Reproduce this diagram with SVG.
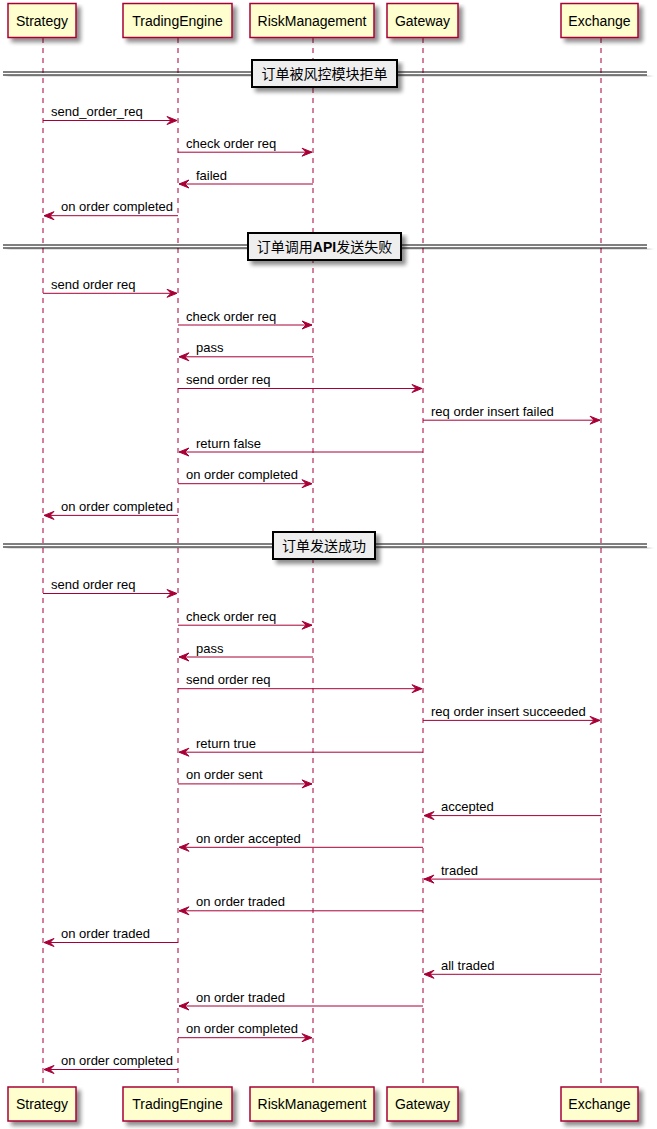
<svg xmlns="http://www.w3.org/2000/svg" width="657" height="1129" viewBox="0 0 657 1129">
<defs>
<filter id="sh" x="-10%" y="-10%" width="130%" height="150%">
<feGaussianBlur in="SourceAlpha" stdDeviation="2" result="b"/>
<feOffset in="b" dx="4" dy="4" result="o"/>
<feComponentTransfer in="o" result="c"><feFuncA type="linear" slope="0.45"/></feComponentTransfer>
<feMerge><feMergeNode in="c"/><feMergeNode in="SourceGraphic"/></feMerge>
</filter>
</defs>
<style>
.pbox{fill:#FEFECE;stroke:#A80036;stroke-width:1.5;filter:url(#sh)}
.pt{font-family:"Liberation Sans",Arial,sans-serif;font-size:14px;fill:#000;text-anchor:middle}
.life{stroke:#A80036;stroke-width:1;stroke-dasharray:5,5;fill:none}
.msg{stroke:#A80036;stroke-width:1;fill:none}
.head{fill:#A80036;stroke:#A80036;stroke-width:1}
.mt{font-family:"Liberation Sans",Arial,sans-serif;font-size:13px;fill:#000}
.dbox{fill:#EEEEEE;stroke:#000;stroke-width:2;filter:url(#sh)}
.dline{stroke:#000;stroke-width:1;fill:none}
.dt{font-family:"Liberation Sans","Noto Sans CJK SC",sans-serif;font-size:14px;fill:#000;text-anchor:middle}
</style>
<rect width="657" height="1129" fill="#FFFFFF"/>

<g id="lifelines">
<line class="life" x1="43" y1="38" x2="43" y2="1087"/>
<line class="life" x1="178" y1="38" x2="178" y2="1087"/>
<line class="life" x1="313" y1="38" x2="313" y2="1087"/>
<line class="life" x1="423" y1="38" x2="423" y2="1087"/>
<line class="life" x1="601" y1="38" x2="601" y2="1087"/>
</g>

<g id="Strategy">
<rect class="pbox" x="8" y="3.5" width="68" height="34"/>
<text class="pt" x="42" y="25.5">Strategy</text>
<rect class="pbox" x="8" y="1087" width="68" height="34"/>
<text class="pt" x="42" y="1109">Strategy</text>
</g>
<g id="TradingEngine">
<rect class="pbox" x="123" y="3.5" width="109" height="34"/>
<text class="pt" x="177.5" y="25.5">TradingEngine</text>
<rect class="pbox" x="123" y="1087" width="109" height="34"/>
<text class="pt" x="177.5" y="1109">TradingEngine</text>
</g>
<g id="RiskManagement">
<rect class="pbox" x="250" y="3.5" width="124" height="34"/>
<text class="pt" x="312" y="25.5">RiskManagement</text>
<rect class="pbox" x="250" y="1087" width="124" height="34"/>
<text class="pt" x="312" y="1109">RiskManagement</text>
</g>
<g id="Gateway">
<rect class="pbox" x="387" y="3.5" width="71" height="34"/>
<text class="pt" x="422.5" y="25.5">Gateway</text>
<rect class="pbox" x="387" y="1087" width="71" height="34"/>
<text class="pt" x="422.5" y="1109">Gateway</text>
</g>
<g id="Exchange">
<rect class="pbox" x="561" y="3.5" width="77" height="34"/>
<text class="pt" x="599.5" y="25.5">Exchange</text>
<rect class="pbox" x="561" y="1087" width="77" height="34"/>
<text class="pt" x="599.5" y="1109">Exchange</text>
</g>

<g id="divider1">
<g filter="url(#sh)"><line class="dline" x1="3" y1="72" x2="647" y2="72"/><line class="dline" x1="3" y1="75" x2="647" y2="75"/></g>
<rect class="dbox" x="252" y="60" width="145" height="27"/>
<text class="dt" x="324.5" y="79">订单被风控模块拒单</text>
</g>
<g id="divider2">
<g filter="url(#sh)"><line class="dline" x1="3" y1="245" x2="647" y2="245"/><line class="dline" x1="3" y1="248" x2="647" y2="248"/></g>
<rect class="dbox" x="248" y="233" width="153" height="27"/>
<text class="dt" x="324.5" y="252">订单调用<tspan font-weight="bold">API</tspan>发送失败</text>
</g>
<g id="divider3">
<g filter="url(#sh)"><line class="dline" x1="3" y1="544" x2="647" y2="544"/><line class="dline" x1="3" y1="547" x2="647" y2="547"/></g>
<rect class="dbox" x="273" y="532" width="102" height="27"/>
<text class="dt" x="324" y="551">订单发送成功</text>
</g>

<g id="connectors">
<line class="msg" x1="43" y1="120.5" x2="177" y2="120.5"/><polygon class="head" points="167,116.5 177,120.5 167,124.5 171,120.5"/><text class="mt" x="51" y="116">send_order_req</text>
<line class="msg" x1="178" y1="152.2" x2="312" y2="152.2"/><polygon class="head" points="302,148.2 312,152.2 302,156.2 306,152.2"/><text class="mt" x="186" y="148">check order req</text>
<line class="msg" x1="179" y1="184" x2="313" y2="184"/><polygon class="head" points="189,180 179,184 189,188 185,184"/><text class="mt" x="196" y="179.5">failed</text>
<line class="msg" x1="44" y1="215.7" x2="178" y2="215.7"/><polygon class="head" points="54,211.7 44,215.7 54,219.7 50,215.7"/><text class="mt" x="61" y="211.2">on order completed</text>
<line class="msg" x1="43" y1="293.3" x2="177" y2="293.3"/><polygon class="head" points="167,289.3 177,293.3 167,297.3 171,293.3"/><text class="mt" x="51" y="288.8">send order req</text>
<line class="msg" x1="178" y1="325" x2="312" y2="325"/><polygon class="head" points="302,321 312,325 302,329 306,325"/><text class="mt" x="186" y="320.5">check order req</text>
<line class="msg" x1="179" y1="356.8" x2="313" y2="356.8"/><polygon class="head" points="189,352.8 179,356.8 189,360.8 185,356.8"/><text class="mt" x="196" y="352.3">pass</text>
<line class="msg" x1="178" y1="388.5" x2="422" y2="388.5"/><polygon class="head" points="412,384.5 422,388.5 412,392.5 416,388.5"/><text class="mt" x="186" y="384">send order req</text>
<line class="msg" x1="423" y1="420.2" x2="600" y2="420.2"/><polygon class="head" points="590,416.2 600,420.2 590,424.2 594,420.2"/><text class="mt" x="431" y="415.7">req order insert failed</text>
<line class="msg" x1="179" y1="452" x2="423" y2="452"/><polygon class="head" points="189,448 179,452 189,456 185,452"/><text class="mt" x="196" y="447.5">return false</text>
<line class="msg" x1="178" y1="483.7" x2="312" y2="483.7"/><polygon class="head" points="302,479.7 312,483.7 302,487.7 306,483.7"/><text class="mt" x="186" y="479.2">on order completed</text>
<line class="msg" x1="44" y1="515.4" x2="178" y2="515.4"/><polygon class="head" points="54,511.4 44,515.4 54,519.4 50,515.4"/><text class="mt" x="61" y="510.9">on order completed</text>
<line class="msg" x1="43" y1="593.5" x2="177" y2="593.5"/><polygon class="head" points="167,589.5 177,593.5 167,597.5 171,593.5"/><text class="mt" x="51" y="589">send order req</text>
<line class="msg" x1="178" y1="625.2" x2="312" y2="625.2"/><polygon class="head" points="302,621.2 312,625.2 302,629.2 306,625.2"/><text class="mt" x="186" y="620.7">check order req</text>
<line class="msg" x1="179" y1="657" x2="313" y2="657"/><polygon class="head" points="189,653 179,657 189,661 185,657"/><text class="mt" x="196" y="652.5">pass</text>
<line class="msg" x1="178" y1="688.7" x2="422" y2="688.7"/><polygon class="head" points="412,684.7 422,688.7 412,692.7 416,688.7"/><text class="mt" x="186" y="684.2">send order req</text>
<line class="msg" x1="423" y1="720.4" x2="600" y2="720.4"/><polygon class="head" points="590,716.4 600,720.4 590,724.4 594,720.4"/><text class="mt" x="431" y="715.9">req order insert succeeded</text>
<line class="msg" x1="179" y1="752.2" x2="423" y2="752.2"/><polygon class="head" points="189,748.2 179,752.2 189,756.2 185,752.2"/><text class="mt" x="196" y="747.7">return true</text>
<line class="msg" x1="178" y1="783.9" x2="312" y2="783.9"/><polygon class="head" points="302,779.9 312,783.9 302,787.9 306,783.9"/><text class="mt" x="186" y="779.4">on order sent</text>
<line class="msg" x1="424" y1="815.6" x2="601" y2="815.6"/><polygon class="head" points="434,811.6 424,815.6 434,819.6 430,815.6"/><text class="mt" x="441" y="811.1">accepted</text>
<line class="msg" x1="179" y1="847.3" x2="423" y2="847.3"/><polygon class="head" points="189,843.3 179,847.3 189,851.3 185,847.3"/><text class="mt" x="196" y="842.8">on order accepted</text>
<line class="msg" x1="424" y1="879.1" x2="601" y2="879.1"/><polygon class="head" points="434,875.1 424,879.1 434,883.1 430,879.1"/><text class="mt" x="441" y="874.6">traded</text>
<line class="msg" x1="179" y1="910.8" x2="423" y2="910.8"/><polygon class="head" points="189,906.8 179,910.8 189,914.8 185,910.8"/><text class="mt" x="196" y="906.3">on order traded</text>
<line class="msg" x1="44" y1="942.5" x2="178" y2="942.5"/><polygon class="head" points="54,938.5 44,942.5 54,946.5 50,942.5"/><text class="mt" x="61" y="938">on order traded</text>
<line class="msg" x1="424" y1="974.3" x2="601" y2="974.3"/><polygon class="head" points="434,970.3 424,974.3 434,978.3 430,974.3"/><text class="mt" x="441" y="969.8">all traded</text>
<line class="msg" x1="179" y1="1006" x2="423" y2="1006"/><polygon class="head" points="189,1002 179,1006 189,1010 185,1006"/><text class="mt" x="196" y="1001.5">on order traded</text>
<line class="msg" x1="178" y1="1037.7" x2="312" y2="1037.7"/><polygon class="head" points="302,1033.7 312,1037.7 302,1041.7 306,1037.7"/><text class="mt" x="186" y="1033.2">on order completed</text>
<line class="msg" x1="44" y1="1069.5" x2="178" y2="1069.5"/><polygon class="head" points="54,1065.5 44,1069.5 54,1073.5 50,1069.5"/><text class="mt" x="61" y="1065">on order completed</text>
</g>
</svg>
